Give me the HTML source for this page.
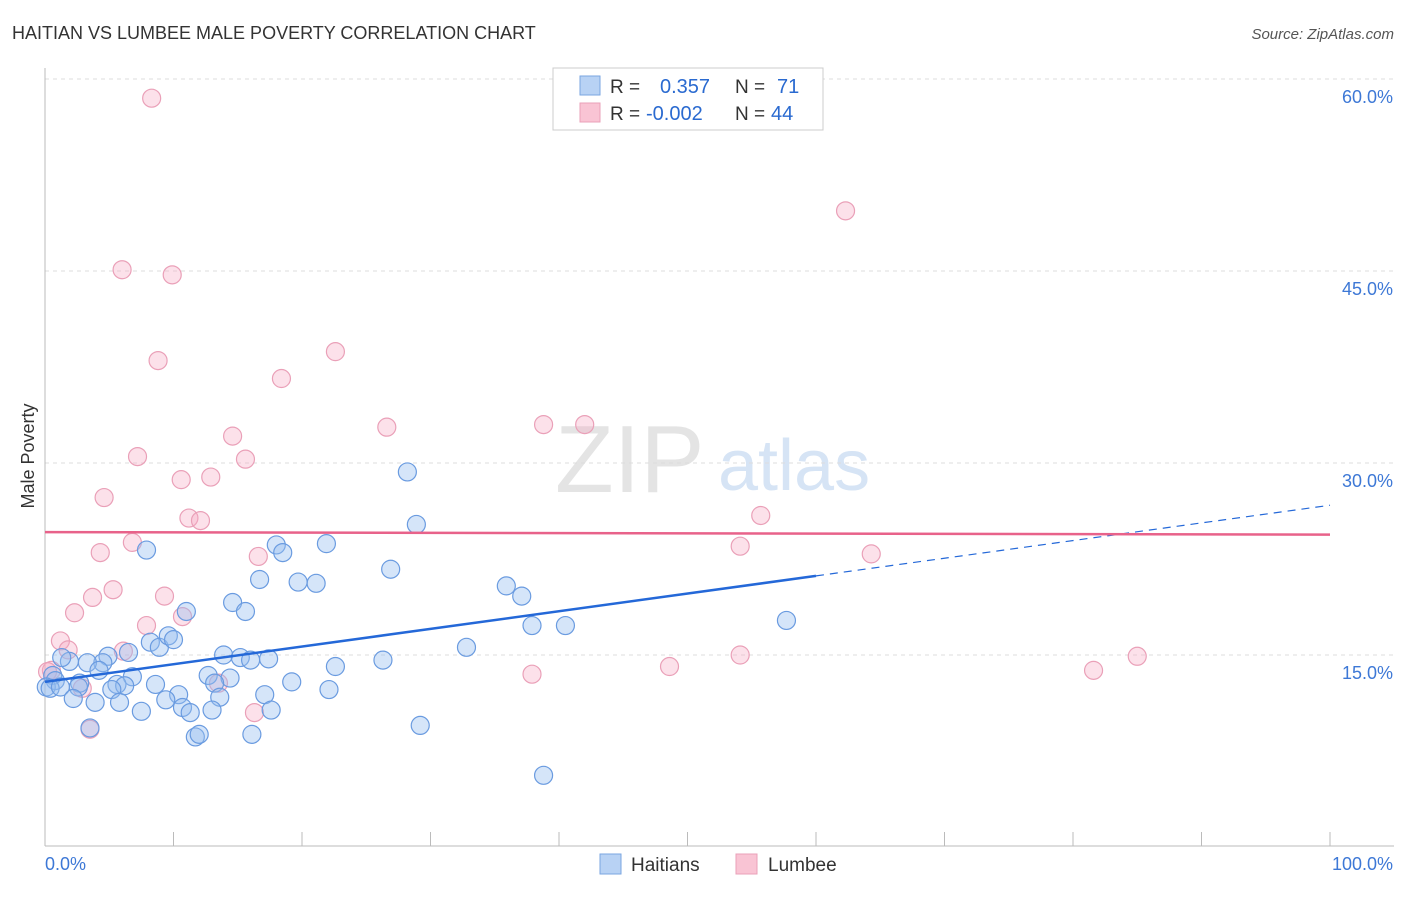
<!DOCTYPE html>
<html><head><meta charset="utf-8"><style>
body{margin:0;background:#fff;font-family:"Liberation Sans",sans-serif;}
svg text{font-family:"Liberation Sans",sans-serif;}
</style></head><body>
<svg id="chart" width="1406" height="892">
<text x="12" y="39" font-size="18" fill="#333">HAITIAN VS LUMBEE MALE POVERTY CORRELATION CHART</text>
<text x="1394" y="39" font-size="15" fill="#555" text-anchor="end" font-style="italic">Source: ZipAtlas.com</text>
<text x="0" y="0" transform="translate(34,456) rotate(-90)" font-size="18" fill="#333" text-anchor="middle">Male Poverty</text>
<text x="555" y="492" font-size="96" fill="#e4e4e4" font-family="Liberation Serif">ZIP</text>
<text x="718" y="490" font-size="72" fill="#d6e4f5">atlas</text>
<g id="grid"></g><g id="axes"></g><g id="pts"></g><g id="trend"></g>
<g>
<rect x="553" y="68" width="270" height="62" fill="#fff" stroke="#ccc"/>
<rect x="580" y="76" width="20" height="19" fill="#b8d2f4" stroke="#7aa6e0"/>
<rect x="580" y="103" width="20" height="19" fill="#f9c4d4" stroke="#eaa0b8"/>
<text x="610" y="93" font-size="19" fill="#333">R = </text><text x="660" y="93" font-size="20" fill="#2a6ad0">0.357</text>
<text x="735" y="93" font-size="19" fill="#333">N = </text><text x="777" y="93" font-size="20" fill="#2a6ad0">71</text>
<text x="610" y="120" font-size="19" fill="#333">R = </text><text x="646" y="120" font-size="20" fill="#2a6ad0">-0.002</text>
<text x="735" y="120" font-size="19" fill="#333">N = </text><text x="771" y="120" font-size="20" fill="#2a6ad0">44</text>
</g>
<g>
<rect x="600" y="854" width="21" height="20" fill="#b8d2f4" stroke="#7aa6e0"/>
<text x="631" y="871" font-size="19" fill="#333">Haitians</text>
<rect x="736" y="854" width="21" height="20" fill="#f9c4d4" stroke="#eaa0b8"/>
<text x="768" y="871" font-size="19" fill="#333">Lumbee</text>
</g>
</svg>
<script>
const yTicks=[15,30,45,60];
const xTickLabels=["0.0%","100.0%"];
const blueX=[28.2,28.9,18.0,18.5,21.9,7.9,26.9,16.7,19.7,21.1,35.9,37.1,14.6,15.6,11.0,37.9,40.5,57.7,8.2,8.9,9.6,10.0,32.8,13.9,15.2,16.0,17.4,26.3,22.6,6.5,4.9,4.5,3.3,1.9,1.3,4.2,0.6,0.8,6.8,5.6,6.2,2.7,2.6,0.1,0.4,1.2,8.6,5.2,10.4,12.7,14.4,13.2,19.2,17.1,22.1,9.4,13.6,10.7,11.3,13.0,7.5,5.8,3.9,2.2,17.6,11.7,12.0,16.1,29.2,38.8,3.5];
const blueY=[29.3,25.2,23.6,23.0,23.7,23.2,21.7,20.9,20.7,20.6,20.4,19.6,19.1,18.4,18.4,17.3,17.3,17.7,16.0,15.6,16.5,16.2,15.6,15.0,14.8,14.6,14.7,14.6,14.1,15.2,14.9,14.4,14.4,14.5,14.8,13.8,13.4,13.0,13.3,12.7,12.6,12.8,12.5,12.5,12.4,12.5,12.7,12.3,11.9,13.4,13.2,12.8,12.9,11.9,12.3,11.5,11.7,10.9,10.5,10.7,10.6,11.3,11.3,11.6,10.7,8.6,8.8,8.8,9.5,5.6,9.3];
const pinkX=[8.3,62.3,6.0,9.9,8.8,22.6,18.4,26.6,38.8,42.0,14.6,7.2,15.6,10.6,12.9,4.6,11.2,12.1,55.7,6.8,4.3,16.6,54.1,64.3,5.3,3.7,9.3,2.3,10.7,7.9,1.2,1.8,6.1,0.5,0.2,37.9,48.6,54.1,81.6,85.0,13.5,2.9,16.3,3.5];
const pinkY=[58.5,49.7,45.1,44.7,38.0,38.7,36.6,32.8,33.0,33.0,32.1,30.5,30.3,28.7,28.9,27.3,25.7,25.5,25.9,23.8,23.0,22.7,23.5,22.9,20.1,19.5,19.6,18.3,18.0,17.3,16.1,15.4,15.3,13.8,13.7,13.5,14.1,15.0,13.8,14.9,12.8,12.4,10.5,9.2];
const blueTrend=[12.9,26.7];
const pinkTrend=[24.6,24.4];
const NS="http://www.w3.org/2000/svg";
const X=v=>45+v*12.85, Y=v=>655-(v-15)*12.8;
function mk(t,a,p){const e=document.createElementNS(NS,t);for(const k in a)e.setAttribute(k,a[k]);document.getElementById(p).appendChild(e);return e;}
yTicks.forEach(t=>{
 const l=mk("line",{x1:45,x2:1394,y1:Y(t),y2:Y(t),stroke:"#ddd","stroke-dasharray":"4,4"},"grid");
 
 
 const tx=mk("text",{x:1393,y:Y(t)+24,"font-size":18,fill:"#3d78d6","text-anchor":"end"},"grid");tx.textContent=t.toFixed(1)+"%";
 
 
});
mk("line",{x1:45,x2:45,y1:68,y2:846,stroke:"#bbb"},"axes");
mk("line",{x1:45,x2:1394,y1:846,y2:846,stroke:"#bbb"},"axes");
for(let i=1;i<=10;i++){const t=mk("line",{x1:X(i*10),x2:X(i*10),y1:832,y2:846,stroke:"#bbb"},"axes");
 
 }
const xl0=mk("text",{x:45,y:870,"font-size":18,fill:"#3d78d6"},"axes");xl0.textContent=xTickLabels[0];


const xl1=mk("text",{x:1393,y:870,"font-size":18,fill:"#3d78d6","text-anchor":"end"},"axes");xl1.textContent=xTickLabels[1];


pinkX.forEach((v,i)=>{const c=mk("circle",{cx:X(v),cy:Y(pinkY[i]),r:9,fill:"rgba(246,170,195,0.35)",stroke:"#eaa0b8","stroke-width":1.2},"pts");
 
 });
blueX.forEach((v,i)=>{const c=mk("circle",{cx:X(v),cy:Y(blueY[i]),r:9,fill:"rgba(150,190,240,0.4)",stroke:"#6a9be0","stroke-width":1.2},"pts");
 
 });
const bAt=v=>blueTrend[0]+(blueTrend[1]-blueTrend[0])*v/100;
const b1=mk("line",{x1:X(0),y1:Y(bAt(0)),x2:X(60),y2:Y(bAt(60)),stroke:"#2468d8","stroke-width":2.5},"trend");


const b2=mk("line",{x1:X(60),y1:Y(bAt(60)),x2:X(100),y2:Y(bAt(100)),stroke:"#2468d8","stroke-width":1.2,"stroke-dasharray":"8,6"},"trend");


const p1=mk("line",{x1:X(0),y1:Y(pinkTrend[0]),x2:X(100),y2:Y(pinkTrend[1]),stroke:"#e8628a","stroke-width":2.5},"trend");


</script>
</body></html>
